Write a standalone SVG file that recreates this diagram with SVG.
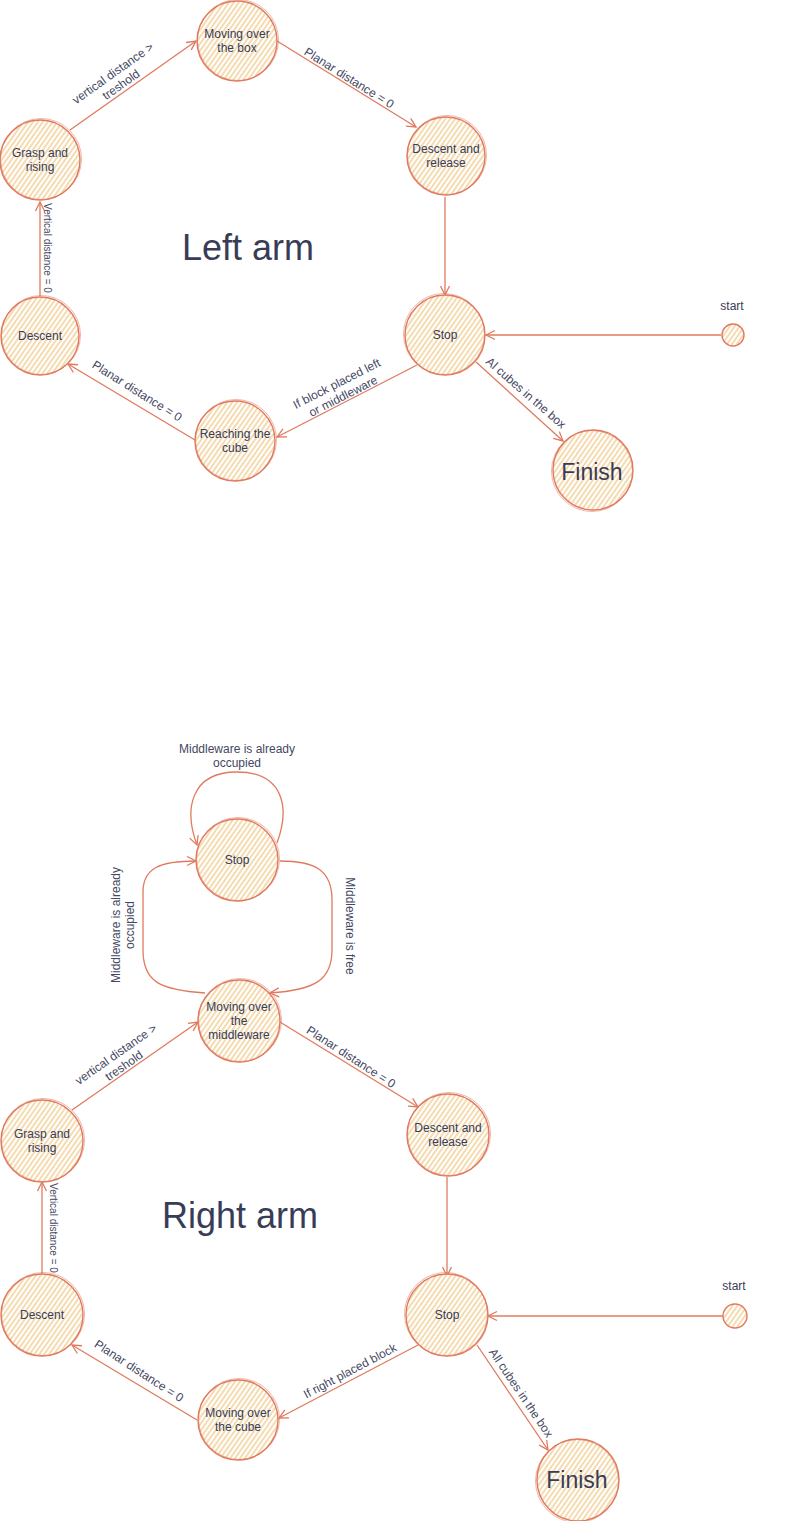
<svg xmlns="http://www.w3.org/2000/svg" width="789" height="1521" viewBox="0 0 789 1521">
<style>
.node circle{fill:url(#hatch);stroke:#E07A5F;stroke-width:1.4}
.node circle.s2{fill:none;stroke:#E07A5F;stroke-width:0.7;opacity:0.8}
.nt{font-family:"Liberation Sans",Arial,sans-serif;font-size:12px;fill:#393C56;text-anchor:middle}
.big{font-size:23px}
.title{font-family:"Liberation Sans",Arial,sans-serif;font-size:36px;fill:#393C56;text-anchor:middle}
.el{font-family:"Liberation Sans",Arial,sans-serif;font-size:12px;fill:#454862;text-anchor:middle}
.sm{font-size:10px}
#edges path{fill:none;stroke:#E07A5F;stroke-width:1.3;marker-end:url(#arr)}
</style>
<defs>
<pattern id="hatch" width="4" height="4" patternUnits="userSpaceOnUse" patternTransform="rotate(35)">
<rect width="4" height="4" fill="#ffffff"/>
<line x1="1" y1="0" x2="1" y2="4" stroke="#F2CC8F" stroke-width="1.4"/>
</pattern>
<marker id="arr" markerUnits="userSpaceOnUse" markerWidth="12" markerHeight="12" refX="10" refY="6" orient="auto">
<path d="M1,1.5 L10,6 L1,10.5" fill="none" stroke="#E07A5F" stroke-width="1.3"/>
</marker>
</defs>
<rect width="789" height="1521" fill="#ffffff"/>

<text class="title" x="248" y="260">Left arm</text>
<text class="title" x="240" y="1228">Right arm</text>

<g id="edges">
<path d="M70,130 L196,41"/>
<path d="M277,41 L416,127"/>
<path d="M445,197 L445,295"/>
<path d="M417,365 L277,437"/>
<path d="M195,440 L68,364"/>
<path d="M40,296 L40,202"/>
<path d="M721,335 L486,335"/>
<path d="M476,362 L563,441"/>
<path d="M277,843 C290,808 284,772 237,772 C190,772 184,810 197,845"/>
<path d="M205,993 C160,990 143,982 143,950 L143,892 C143,868 160,861 196,861"/>
<path d="M280,861 C315,861 332,870 332,900 L332,950 C332,980 315,990 270,993"/>
<path d="M72,1110 L198,1022"/>
<path d="M280,1022 L418,1107"/>
<path d="M447,1177 L447,1276"/>
<path d="M418,1345 L279,1418"/>
<path d="M197,1420 L72,1345"/>
<path d="M42,1274 L42,1182"/>
<path d="M723,1316 L488,1316"/>
<path d="M477,1345 L548,1450"/>
</g>

<g id="edge-labels">
<text class="el" transform="translate(117,79) rotate(-35.5)"><tspan x="0" y="-3">vertical distance &gt;</tspan><tspan x="0" y="11">treshold</tspan></text>
<text class="el" transform="translate(349,78) rotate(32)" y="4">Planar distance = 0</text>
<text class="el sm" transform="translate(47,248) rotate(90)" y="3.5">Vertical distance = 0</text>
<text class="el" transform="translate(137,391) rotate(32)" y="4">Planar distance = 0</text>
<text class="el" transform="translate(340,390) rotate(-27)"><tspan x="0" y="-3">If block placed left</tspan><tspan x="0" y="11">or middleware</tspan></text>
<text class="el" transform="translate(526,393) rotate(41)" y="4">Al cubes in the box</text>
<text class="el" x="237" y="753">Middleware is already</text>
<text class="el" x="237" y="767">occupied</text>
<text class="el" transform="translate(123,925) rotate(-90)"><tspan x="0" y="-3">Middleware is already</tspan><tspan x="0" y="11">occupied</tspan></text>
<text class="el" transform="translate(350,926) rotate(90)" y="4">Middleware is free</text>
<text class="el" transform="translate(120,1060) rotate(-35)"><tspan x="0" y="-3">vertical distance &gt;</tspan><tspan x="0" y="11">treshold</tspan></text>
<text class="el" transform="translate(351,1057) rotate(33)" y="4">Planar distance = 0</text>
<text class="el sm" transform="translate(53,1228) rotate(90)" y="3.5">Vertical distance = 0</text>
<text class="el" transform="translate(139,1371) rotate(33)" y="4">Planar distance = 0</text>
<text class="el" transform="translate(350,1371) rotate(-28)" y="4">If right placed block</text>
<text class="el" transform="translate(521,1393) rotate(56)" y="4">All cubes in the box</text>
</g>

<g id="l-moving-box" class="node"><circle cx="237" cy="41" r="40"/><circle class="s2" cx="238" cy="40" r="40.5"/><text class="nt" x="237" y="38">Moving over<tspan x="237" dy="14">the box</tspan></text></g>
<g id="l-descent-release" class="node"><circle cx="446" cy="156" r="39"/><circle class="s2" cx="447" cy="155" r="39.5"/><text class="nt" x="446" y="153">Descent and<tspan x="446" dy="14">release</tspan></text></g>
<g id="l-stop" class="node"><circle cx="445" cy="335" r="40"/><circle class="s2" cx="444" cy="334" r="40.5"/><text class="nt" x="445" y="339">Stop</text></g>
<g id="l-start" class="node"><circle cx="733" cy="335" r="11"/><text class="nt" x="732" y="310">start</text></g>
<g id="l-finish" class="node"><circle cx="593" cy="470" r="40"/><circle class="s2" cx="592" cy="471" r="40.5"/><text class="nt big" x="592" y="480">Finish</text></g>
<g id="l-reaching" class="node"><circle cx="235" cy="441" r="40"/><circle class="s2" cx="236" cy="440" r="40.5"/><text class="nt" x="235" y="438">Reaching the<tspan x="235" dy="14">cube</tspan></text></g>
<g id="l-descent" class="node"><circle cx="40" cy="336" r="39"/><circle class="s2" cx="41" cy="335" r="39.5"/><text class="nt" x="40" y="340">Descent</text></g>
<g id="l-grasp" class="node"><circle cx="40" cy="160" r="40"/><circle class="s2" cx="41" cy="159" r="40.5"/><text class="nt" x="40" y="157">Grasp and<tspan x="40" dy="14">rising</tspan></text></g>

<g id="r-stop-top" class="node"><circle cx="237" cy="860" r="41"/><circle class="s2" cx="238" cy="859" r="41.5"/><text class="nt" x="237" y="864">Stop</text></g>
<g id="r-moving-mw" class="node"><circle cx="239" cy="1021" r="41"/><circle class="s2" cx="240" cy="1020" r="41.5"/><text class="nt" x="239" y="1011">Moving over<tspan x="239" dy="14">the</tspan><tspan x="239" dy="14">middleware</tspan></text></g>
<g id="r-descent-release" class="node"><circle cx="448" cy="1135" r="41"/><circle class="s2" cx="449" cy="1134" r="41.5"/><text class="nt" x="448" y="1132">Descent and<tspan x="448" dy="14">release</tspan></text></g>
<g id="r-stop" class="node"><circle cx="447" cy="1315" r="41"/><circle class="s2" cx="446" cy="1314" r="41.5"/><text class="nt" x="447" y="1319">Stop</text></g>
<g id="r-start" class="node"><circle cx="735" cy="1316" r="12"/><text class="nt" x="734" y="1290">start</text></g>
<g id="r-finish" class="node"><circle cx="578" cy="1480" r="41"/><circle class="s2" cx="577" cy="1481" r="41.5"/><text class="nt big" x="577" y="1488">Finish</text></g>
<g id="r-moving-cube" class="node"><circle cx="238" cy="1420" r="40"/><circle class="s2" cx="239" cy="1419" r="40.5"/><text class="nt" x="238" y="1417">Moving over<tspan x="238" dy="14">the cube</tspan></text></g>
<g id="r-descent" class="node"><circle cx="42" cy="1315" r="41"/><circle class="s2" cx="43" cy="1314" r="41.5"/><text class="nt" x="42" y="1319">Descent</text></g>
<g id="r-grasp" class="node"><circle cx="42" cy="1141" r="41"/><circle class="s2" cx="43" cy="1140" r="41.5"/><text class="nt" x="42" y="1138">Grasp and<tspan x="42" dy="14">rising</tspan></text></g>
</svg>
